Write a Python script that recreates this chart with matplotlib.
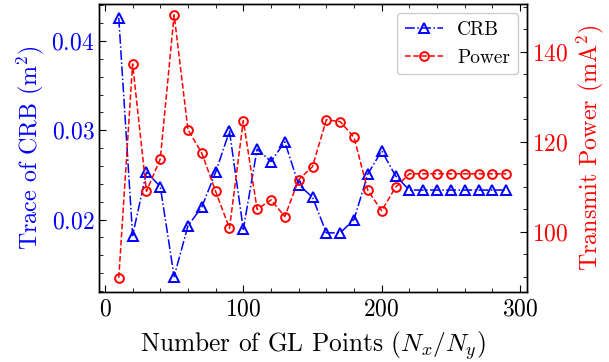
import numpy as np
import matplotlib
matplotlib.use('Agg')
import matplotlib.pyplot as plt
from matplotlib.ticker import MultipleLocator, AutoMinorLocator

plt.rcParams['font.family'] = ['cmr10', 'DejaVu Serif']
plt.rcParams['mathtext.fontset'] = 'cm'
plt.rcParams['axes.formatter.use_mathtext'] = True
plt.rcParams['xtick.direction'] = 'in'
plt.rcParams['ytick.direction'] = 'in'

# data
gl_points = list(range(10, 300, 10))
crb = [0.0426, 0.0182, 0.0253, 0.0237, 0.0136, 0.0193, 0.0214, 0.0253, 0.0299, 0.0189,
       0.0279, 0.0265, 0.0287, 0.0239, 0.0225, 0.0185, 0.0185, 0.0200, 0.0251, 0.0277,
       0.0249, 0.0233, 0.0233, 0.0233, 0.0233, 0.0233, 0.0233, 0.0233, 0.0233]
power = [89.8, 137.3, 109.0, 116.2, 148.2, 122.7, 117.5, 109.0, 100.8, 124.7,
         105.0, 107.1, 103.4, 111.6, 114.5, 124.9, 124.5, 121.0, 109.2, 104.7,
         109.9, 112.9, 112.9, 112.9, 112.9, 112.9, 112.9, 112.9, 112.9]

fig = plt.figure(figsize=(6.09, 3.62), dpi=100)
ax = fig.add_axes([0.163, 0.194, 0.703, 0.796])
ax2 = ax.twinx()

l1, = ax.plot(gl_points, crb, color='blue', linestyle='-.', marker='^',
              markerfacecolor='none', markersize=7, markeredgewidth=1.4, linewidth=1.1,
              label='CRB')
l2, = ax2.plot(gl_points, power, color='red', linestyle='--', marker='o',
               markerfacecolor='none', markersize=6.3, markeredgewidth=1.4, linewidth=1.1,
               label='Power')

ax.set_xlim(-4.1, 305.3)
ax.set_ylim(0.0119, 0.0442)
ax2.set_ylim(86.7, 150.7)

ax.xaxis.set_major_locator(MultipleLocator(100))
ax.xaxis.set_minor_locator(AutoMinorLocator(5))
ax.yaxis.set_major_locator(MultipleLocator(0.01))
ax.yaxis.set_minor_locator(AutoMinorLocator(5))
ax2.yaxis.set_major_locator(MultipleLocator(20))
ax2.yaxis.set_minor_locator(AutoMinorLocator(4))

ax.tick_params(which='both', top=True, right=False, labelsize=17)
ax.tick_params(which='major', length=5)
ax.tick_params(which='minor', length=3)
ax.tick_params(axis='x', pad=5)
ax.tick_params(axis='y', labelcolor='blue', which='both')
ax2.tick_params(which='major', length=5, labelsize=17)
ax2.tick_params(which='minor', length=3)
ax2.tick_params(axis='y', labelcolor='red', which='both')
for a in (ax, ax2):
    for s in a.spines.values():
        s.set_color('black')
        s.set_linewidth(1.0)

ax.set_xlabel('Number of GL Points ($N_x/N_y$)', fontsize=18.3, labelpad=6)
ax.set_ylabel('Trace of CRB (m$^2$)', fontsize=17.3, color='blue')
ax2.set_ylabel('Transmit Power (mA$^2$)', fontsize=17.3, color='red')

ax2.legend([l1, l2], ['CRB', 'Power'], loc='upper right', fontsize=14,
           handlelength=2.0, handletextpad=0.7, borderpad=0.4, borderaxespad=0.5,
           fancybox=True, edgecolor='0.8', framealpha=1.0)

fig.savefig('out.png', dpi=100)
